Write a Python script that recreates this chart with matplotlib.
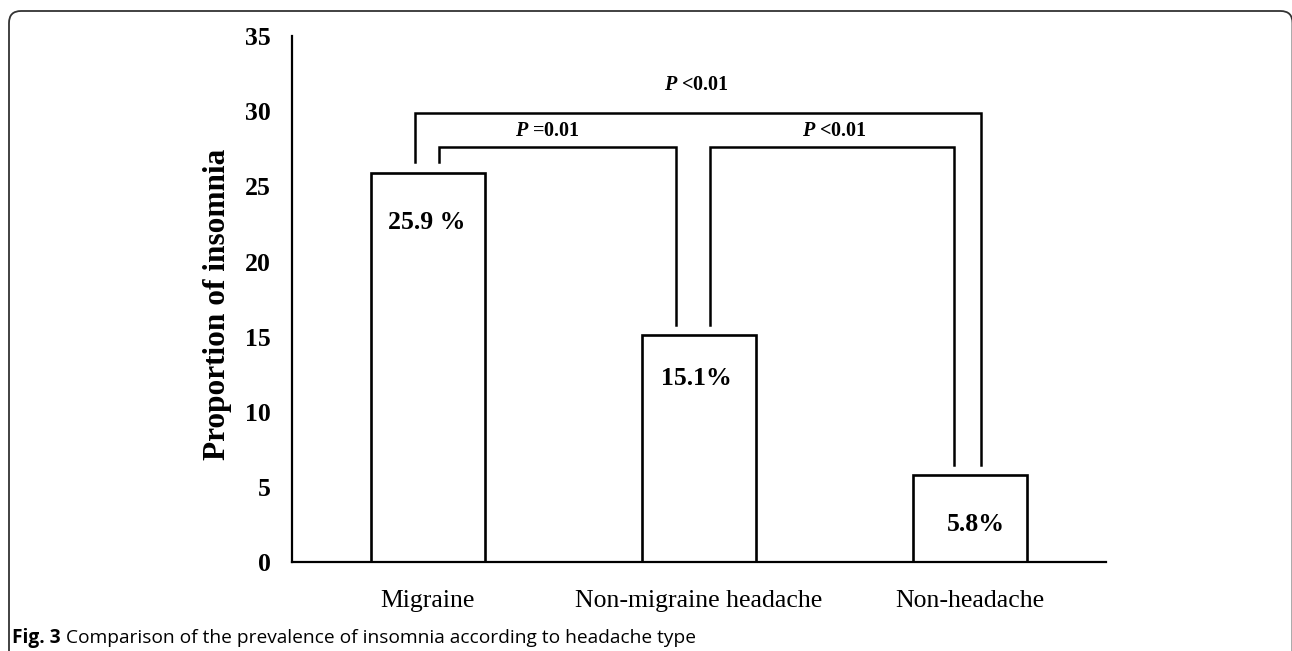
import matplotlib
matplotlib.use('Agg')
import matplotlib.pyplot as plt
from matplotlib.path import Path
from matplotlib.patches import PathPatch

# data
categories = ['Migraine', 'Non-migraine headache', 'Non-headache']
insomnia_pct = [25.9, 15.1, 5.8]
bar_labels = ['25.9 %', '15.1%', '5.8%']
yticks = [0, 5, 10, 15, 20, 25, 30, 35]

# comparisons: (left category, right category, p-value text)
comparisons = [(0, 1, '=0.01'), (1, 2, '<0.01'), (0, 2, '<0.01')]

plt.rcParams['mathtext.fontset'] = 'custom'
plt.rcParams['mathtext.it'] = 'Liberation Serif:italic:bold'
plt.rcParams['mathtext.rm'] = 'Liberation Serif:bold'

serif = 'Liberation Serif'

fig = plt.figure(figsize=(12.92, 6.51), dpi=100)
ax = fig.add_axes([0.226, 0.136, 0.630, 0.809])

x = list(range(len(categories)))
ax.bar(x, insomnia_pct, width=0.42, facecolor='white', edgecolor='black', linewidth=1.9, zorder=2)

ax.set_xlim(-0.5, 2.5)
ax.set_ylim(0, 35)
ax.set_yticks(yticks)
ax.set_yticklabels([str(t) for t in yticks], family=serif, fontweight='bold', fontsize=18.5)
ax.set_xticks(x)
ax.set_xticklabels(categories, family=serif, fontsize=18.5)
ax.tick_params(axis='y', length=0, pad=15)
ax.tick_params(axis='x', length=0, pad=20)

for side in ['top', 'right']:
    ax.spines[side].set_visible(False)
for side in ['left', 'bottom']:
    ax.spines[side].set_linewidth(1.6)

ax.set_ylabel('Proportion of insomnia', family=serif, fontweight='bold', fontsize=22.5)
ax.yaxis.set_label_coords(-0.074, 0.49)

# value labels inside the bars
label_y = [22.6, 12.25, 2.5]
label_dx = [-0.005, -0.01, 0.02]
for i in x:
    ax.text(i + label_dx[i], label_y[i], bar_labels[i], ha='center', va='center',
            family=serif, fontweight='bold', fontsize=18.5)

# significance brackets
bracket_top = [27.6, 27.6, 29.85]
leg_dx = [(0.042, -0.083), (0.04, -0.06), (-0.046, 0.04)]
text_x = [0.44, 1.50, 0.99]
text_y = [28.7, 28.7, 31.7]
for k, ((a, b, p), top, (dxa, dxb)) in enumerate(zip(comparisons, bracket_top, leg_dx)):
    xa = a + dxa
    xb = b + dxb
    ya = insomnia_pct[a] + 0.7
    yb = insomnia_pct[b] + 0.65
    ax.plot([xa, xa, xb, xb], [ya, top, top, yb], color='black', linewidth=1.8,
            solid_joinstyle='miter', clip_on=False, zorder=3)
    ax.text(text_x[k], text_y[k], r'$P$ ' + p, ha='center', va='center',
            family=serif, fontweight='bold', fontsize=14.5)

# outer rounded frame (pixel coordinates)
x0, x1, ytop, ybot, r = 9, 1292.5, 640, -20, 12
verts = [(x0, ybot), (x0, ytop - r), (x0, ytop), (x0 + r, ytop),
         (x1 - r, ytop), (x1, ytop), (x1, ytop - r), (x1, ybot)]
codes = [Path.MOVETO, Path.LINETO, Path.CURVE3, Path.CURVE3,
         Path.LINETO, Path.CURVE3, Path.CURVE3, Path.LINETO]
frame = PathPatch(Path(verts, codes), transform=None, facecolor='none',
                  edgecolor='#333333', linewidth=1.3, zorder=0)
fig.patches.append(frame)

# caption
t1 = fig.text(0.0093, 0.02, 'Fig. 3', family='Open Sans', fontweight='bold',
              fontsize=13.8, va='center', ha='left')
fig.canvas.draw()
bb = t1.get_window_extent(renderer=fig.canvas.get_renderer())
x2 = (bb.x1 + 5) / fig.bbox.width
fig.text(x2, 0.02, 'Comparison of the prevalence of insomnia according to headache type',
         family='Open Sans', fontsize=13.8, va='center', ha='left')

plt.savefig('out.png', dpi=100)
plt.close(fig)
